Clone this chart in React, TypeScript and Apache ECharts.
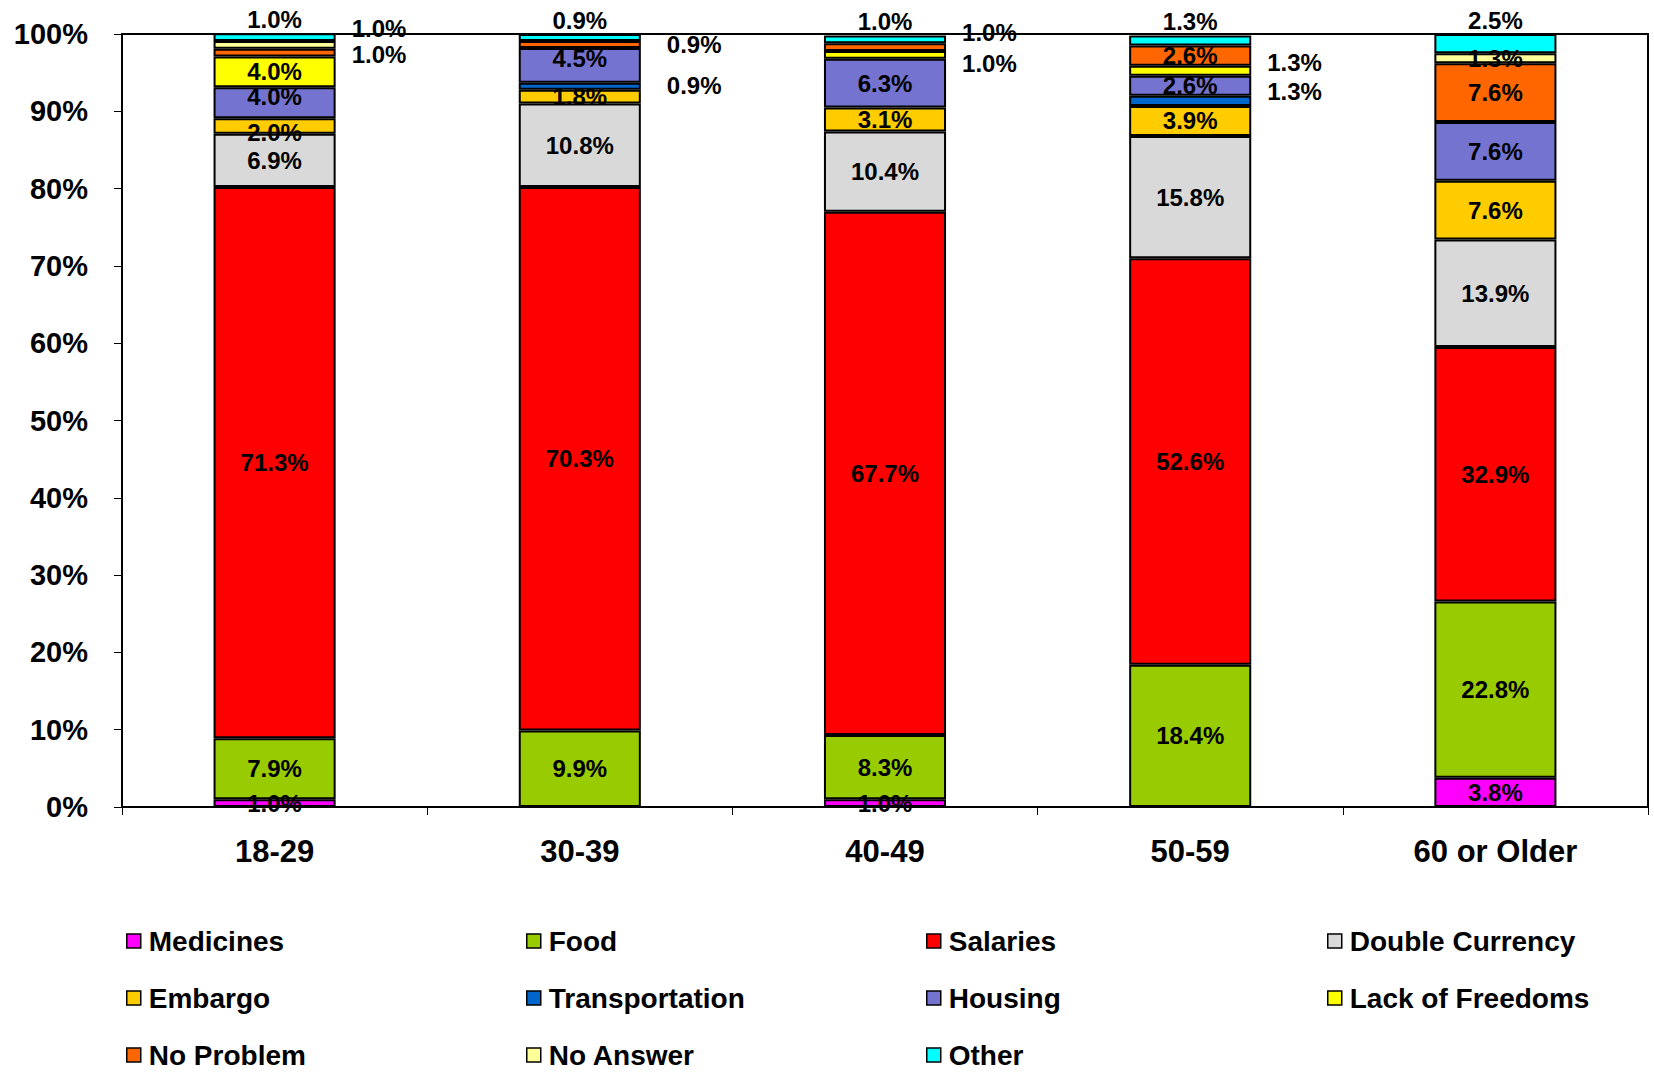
import React, { useEffect, useRef } from "react";
import * as echarts from "echarts";

const categories = ["18-29", "30-39", "40-49", "50-59", "60 or Older"];
const seriesNames = [
  "Medicines", "Food", "Salaries", "Double Currency", "Embargo", "Transportation",
  "Housing", "Lack of Freedoms", "No Problem", "No Answer", "Other",
];
const medicines = [1.0, 0, 1.0, 0, 3.8];
const food = [7.9, 9.9, 8.3, 18.4, 22.8];
const salaries = [71.3, 70.3, 67.7, 52.6, 32.9];
const doubleCurrency = [6.9, 10.8, 10.4, 15.8, 13.9];
const embargo = [2.0, 1.8, 3.1, 3.9, 7.6];
const transportation = [0, 0.9, 0, 1.3, 0];
const housing = [4.0, 4.5, 6.3, 2.6, 7.6];
const lackOfFreedoms = [4.0, 0, 1.0, 1.3, 0];
const noProblem = [1.0, 0.9, 1.0, 2.6, 7.6];
const noAnswer = [1.0, 0, 0, 0, 1.3];
const other = [1.0, 0.9, 1.0, 1.3, 2.5];
const yTicks = [0, 10, 20, 30, 40, 50, 60, 70, 80, 90, 100];

const allValues = [
  medicines, food, salaries, doubleCurrency, embargo, transportation,
  housing, lackOfFreedoms, noProblem, noAnswer, other,
];
const colors = [
  "#FF00FF", "#99CC00", "#FF0000", "#D9D9D9", "#FFCC00", "#0066CC",
  "#7474D0", "#FFFF00", "#FF6600", "#FFFF99", "#00FFFF",
];

// label placement overrides: [seriesIndex]-[categoryIndex]
const labelOverrides: Record<string, any> = {
  "10-0": { position: "top", distance: 2 },
  "10-1": { position: "top", distance: 2 },
  "10-2": { position: "top", distance: 2 },
  "10-3": { position: "top", distance: 2 },
  "10-4": { position: "top", distance: 2 },
  "9-0": { position: "right", distance: 16, offset: [0, -16] },
  "8-0": { position: "right", distance: 16, offset: [0, 2] },
  "8-1": { position: "right", distance: 26, offset: [0, 0] },
  "5-1": { position: "right", distance: 26, offset: [0, -1] },
  "8-2": { position: "right", distance: 16, offset: [0, -15] },
  "7-2": { position: "right", distance: 16, offset: [0, 9] },
  "5-3": { position: "right", distance: 16, offset: [0, -9] },
  "7-3": { position: "right", distance: 16, offset: [0, -8] },
  "6-0": { offset: [0, -6] },
  "4-0": { offset: [0, 7] },
  "6-1": { offset: [0, -7] },
};

const FONT = "'Liberation Sans', Arial, sans-serif";

export default function App() {
  const ref = useRef<HTMLDivElement>(null);
  useEffect(() => {
    document.body.style.margin = "0";
    if (!ref.current) return;
    const chart = echarts.init(ref.current, null, { renderer: "svg" });
    const series = seriesNames.map((name, si) => ({
      name,
      type: "bar",
      stack: "total",
      barWidth: "40%",
      itemStyle: { color: colors[si], borderColor: "#000", borderWidth: 2 },
      label: {
        show: true,
        position: "inside",
        color: "#000",
        fontFamily: FONT,
        fontWeight: "bold",
        fontSize: 24,
        formatter: (p: any) =>
          typeof p.value === "number" && p.value > 0 ? p.value.toFixed(1) + "%" : "",
      },
      data: allValues[si].map((v, ci) => {
        const ov = labelOverrides[`${si}-${ci}`];
        const val = v > 0 ? v : "-";
        return ov ? { value: val, label: ov } : { value: val };
      }),
    }));
    const columns = [
      { left: 126, data: ["Medicines", "Embargo", "No Problem"] },
      { left: 526, data: ["Food", "Transportation", "No Answer"] },
      { left: 926, data: ["Salaries", "Housing", "Other"] },
      { left: 1327, data: ["Double Currency", "Lack of Freedoms"] },
    ];
    chart.setOption({
      animation: false,
      backgroundColor: "#fff",
      grid: {
        left: 122, right: 6, top: 34, bottom: 266,
        show: true, borderColor: "#000", borderWidth: 2, backgroundColor: "transparent",
      },
      legend: columns.map((c) => ({
        orient: "vertical",
        left: c.left,
        top: 927,
        height: 145,
        padding: 0,
        itemWidth: 14,
        itemHeight: 14,
        itemGap: 29,
        icon: "rect",
        itemStyle: { borderColor: "#000", borderWidth: 1.5 },
        textStyle: {
          fontFamily: FONT, fontWeight: "bold", fontSize: 28, color: "#000", lineHeight: 28,
          padding: [0, 0, 0, 3],
        },
        data: c.data,
      })),
      xAxis: {
        type: "category",
        data: categories,
        axisLine: { lineStyle: { color: "#000", width: 2 } },
        axisTick: { show: true, length: 8, alignWithLabel: false, lineStyle: { color: "#000" } },
        axisLabel: {
          fontFamily: FONT, fontWeight: "bold", fontSize: 31, color: "#000", margin: 29,
        },
      },
      yAxis: {
        type: "value",
        min: yTicks[0],
        max: yTicks[yTicks.length - 1],
        interval: 10,
        axisLine: { show: true, lineStyle: { color: "#000", width: 2 } },
        axisTick: { show: true, length: 8, lineStyle: { color: "#000" } },
        splitLine: { show: false },
        axisLabel: {
          formatter: "{value}%",
          fontFamily: FONT, fontWeight: "bold", fontSize: 29, color: "#000", margin: 34,
        },
      },
      series,
    });
    return () => chart.dispose();
  }, []);
  return <div ref={ref} style={{ width: 1654, height: 1073 }} />;
}
